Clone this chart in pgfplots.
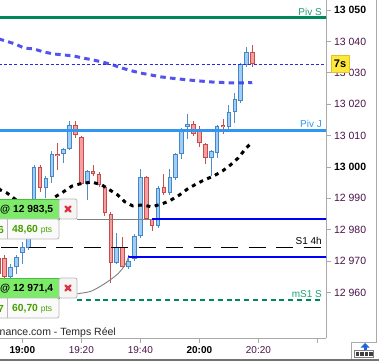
\documentclass[border=0pt]{standalone}
\usepackage{pgfplots}
\pgfplotsset{compat=1.18}
\usepackage{pgfplotstable}
\usepackage{fontspec}
\setmainfont{Liberation Sans}

\definecolor{upborder}{RGB}{70,135,200}
\definecolor{upfill}{RGB}{160,205,245}
\definecolor{upwick}{RGB}{80,140,200}
\definecolor{dnborder}{RGB}{200,75,75}
\definecolor{dnfill}{RGB}{245,160,160}
\definecolor{dnwick}{RGB}{200,80,80}
\definecolor{pivs}{RGB}{0,135,90}
\definecolor{pivstext}{RGB}{30,160,120}
\definecolor{pivj}{RGB}{50,150,240}
\definecolor{lastblue}{RGB}{40,40,230}
\definecolor{mablue}{RGB}{55,55,235}
\definecolor{levelblue}{RGB}{0,0,250}
\definecolor{axisgray}{RGB}{170,170,170}
\definecolor{tickpurple}{RGB}{75,20,75}
\definecolor{boxgreen}{RGB}{125,235,105}
\definecolor{boxgreenborder}{RGB}{70,190,60}
\definecolor{cellgray}{RGB}{185,185,185}
\definecolor{ptsgreen}{RGB}{70,160,0}
\definecolor{xred}{RGB}{220,50,60}
\definecolor{badge}{RGB}{255,232,60}
\definecolor{badgeborder}{RGB}{225,195,40}
\definecolor{iconblue}{RGB}{30,100,220}

\newcommand\fs[1]{\fontsize{#1}{#1}\selectfont}

% up candles: time (min after 19:00), open, high, low, close
\pgfplotstableread{
t o h l c
-4 12965.0 12969.0 12964.0 12968.2
-2 12968.0 12972.0 12966.0 12971.3
0 12972.6 12976.0 12969.0 12974.5
2 12974.2 12980.0 12973.5 12979.0
4 12979.0 13000.5 12978.0 13000.0
8 12993.3 12997.0 12990.0 12996.5
10 12996.8 13005.0 12995.0 13004.1
14 13004.1 13006.0 13001.3 13005.7
16 13005.7 13014.6 13005.5 13013.4
22 12994.6 12999.0 12989.5 12998.7
32 12969.4 12979.0 12969.0 12974.5
36 12968.2 12972.0 12967.5 12970.1
38 12970.7 12978.5 12970.0 12978.0
40 12978.0 12999.4 12977.5 12996.8
46 12981.2 12994.0 12980.5 12993.3
50 12991.7 12999.4 12991.0 12996.8
52 12996.5 13004.5 12995.9 13004.1
54 13004.1 13012.5 13002.5 13012.1
56 13012.7 13016.9 13008.9 13013.7
64 13002.9 13005.5 12997.1 13005.1
66 13004.5 13013.5 13002.9 13013.1
70 13012.7 13019.7 13012.1 13017.5
72 13017.5 13023.6 13014.0 13021.7
74 13021.0 13033.0 13020.4 13032.8
76 13032.5 13038.2 13031.8 13036.6
}\upcandles

% down candles
\pgfplotstableread{
t o h l c
-8 12971.0 12972.0 12964.0 12966.0
-6 12971.0 12972.0 12963.0 12965.0
6 13000.0 13000.5 12992.0 12993.3
12 13004.2 13007.6 12999.0 13003.4
18 13013.4 13014.6 13009.2 13010.2
20 13009.6 13010.0 12994.3 12994.6
24 12998.7 13000.6 12997.0 12997.8
26 12997.8 12998.5 12993.5 12994.3
28 12993.6 12994.0 12984.5 12985.4
30 12985.0 12985.5 12963.1 12969.4
34 12974.5 12977.7 12968.0 12968.2
42 12996.8 12997.0 12983.0 12983.4
44 12983.4 12983.5 12979.6 12981.2
48 12993.6 12997.8 12991.0 12991.7
58 13013.7 13014.6 13010.0 13010.5
60 13011.5 13013.1 13006.4 13007.6
62 13007.3 13007.5 13001.0 13002.9
68 13013.5 13015.3 13010.5 13012.6
78 13036.6 13038.9 13031.8 13032.8
}\dncandles

\begin{document}
\begin{tikzpicture}
\path[use as bounding box, fill=white] (0pt,0pt) rectangle (379pt,361pt);
\begin{axis}[
  at={(0pt,23pt)}, anchor=south west,
  scale only axis, width=326pt, height=338pt,
  xmin=-7.56, xmax=102.9, ymin=12945.5, ymax=13053.2,
  axis x line*=bottom, axis y line*=right,
  axis line style={draw=axisgray, line width=0.8pt},
  tick align=outside, major tick length=4.5pt,
  tick style={draw=axisgray, line width=0.8pt},
  xtick={0,20,40,60,80,100},
  xticklabels={{\textbf{\color{black}19:00}},19:20,19:40,{\textbf{\color{black}20:00}},20:20,{}},
  ytick={12960,12970,12980,12990,13000,13010,13020,13030,13040,13050},
  yticklabels={12 960,12 970,12 980,12 990,{\textbf{\color{black}13 000}},13 010,13 020,13 030,13 040,{\textbf{\color{black}13 050}}},
  xticklabel style={font=\fs{10}, text=tickpurple},
  yticklabel style={font=\fs{10.5}, text=tickpurple},
  minor tick num=0,
]
% wicks
\addplot[upwick, line width=1pt, quiver={u=0, v=\thisrow{h}-\thisrow{l}}] table[x=t, y=l] {\upcandles};
\addplot[dnwick, line width=1pt, quiver={u=0, v=\thisrow{h}-\thisrow{l}}] table[x=t, y=l] {\dncandles};
% bodies
\addplot[upborder, line width=4.6pt, quiver={u=0, v=\thisrow{c}-\thisrow{o}}] table[x=t, y=o] {\upcandles};
\addplot[upfill, line width=2.6pt, quiver={u=0, v=\thisrow{c}-\thisrow{o}-0.64}] table[x=t, y expr=\thisrow{o}+0.32] {\upcandles};
\addplot[dnborder, line width=4.6pt, quiver={u=0, v=\thisrow{o}-\thisrow{c}}] table[x=t, y=c] {\dncandles};
\addplot[dnfill, line width=2.6pt, quiver={u=0, v=\thisrow{o}-\thisrow{c}-0.64}] table[x=t, y expr=\thisrow{c}+0.32] {\dncandles};

% levels
\addplot[pivs, line width=2.2pt] coordinates {(-8,13047.6) (105,13047.6)};
\addplot[pivj, line width=2.2pt] coordinates {(-8,13011.6) (105,13011.6)};
\addplot[lastblue, line width=0.9pt, dash pattern=on 3pt off 2.2pt] coordinates {(-8,13032.7) (105,13032.7)};
\addplot[black, line width=0.9pt, dash pattern=on 17pt off 10.5pt] coordinates {(-7.2,12974.4) (105,12974.4)};
\addplot[pivs, line width=2pt, dash pattern=on 5pt off 3.8pt] coordinates {(18.5,12957.6) (101.6,12957.6)};
\addplot[gray, line width=0.9pt] coordinates {(18.5,12983.4) (44.0,12983.4)};
\addplot[levelblue, line width=2pt] coordinates {(44.0,12983.4) (105,12983.4)};
\addplot[levelblue, line width=2pt] coordinates {(35.8,12971.3) (105,12971.3)};
\addplot[gray, line width=0.9pt, smooth] coordinates {(18.64,12959.6) (22.95,12960.3) (26.34,12961.9) (29.73,12964.0) (32.54,12966.1) (34.81,12968.8) (35.93,12971.2)};

% moving averages
\addplot[mablue, opacity=0.85, line width=3pt, dash pattern=on 5.5pt off 4.3pt] coordinates {
(-8,13040.8) (-6.54,13040.4) (-2.47,13039.2) (0.58,13037.9) (3.97,13037.6) (7.36,13036.6) (10.75,13036.0) (13.8,13035.7) (17.2,13035.4) (20.6,13034.7) (23.9,13034.1) (27.3,13033.4) (30.7,13032.5) (33.8,13031.5) (37.2,13030.6) (40.2,13029.9) (43.6,13029.3) (47.0,13028.7) (50.4,13028.3) (53.5,13028.0) (56.5,13027.7) (63.6,13027.1) (70.4,13026.8) (75.5,13026.8) (77.9,13026.9)};
\addplot[black, line width=3pt, dash pattern=on 4pt off 4.5pt] coordinates {
(-8,12993.2) (-7.5,12992.7) (-5.2,12991.7) (0,12988.0) (2,12986.5) (6,12986.5) (9,12988.5) (11.0,12990.4) (13.8,12992.0) (16.8,12993.9) (19.5,12994.6) (23.5,12995.2) (26.9,12994.3) (29.6,12992.7) (32.3,12991.1) (34.7,12988.9) (37.4,12987.6) (40.8,12987.9) (43.8,12987.3) (47.2,12988.2) (49.9,12989.2) (53.3,12991.1) (56.0,12993.0) (59.0,12994.6) (61.7,12995.9) (64.8,12997.1) (67.8,12998.7) (70.5,13000.6) (73.2,13002.9) (75.9,13006.1) (77.6,13007.6)};
\end{axis}

\begin{scope}[x=1pt, y=-1pt, yshift=361pt]
% level labels
\node[anchor=east, inner sep=0pt, text=pivstext, font=\fs{10}] at (322,12) {Piv S};
\node[anchor=east, inner sep=0pt, text=pivj, font=\fs{10}] at (322,124) {Piv J};
\node[anchor=east, inner sep=0pt, text=black, font=\fs{10}] at (322,240.5) {S1 4h};
\node[anchor=east, inner sep=0pt, text=pivstext, font=\fs{10}] at (322,294) {mS1 S};
% source text
\node[anchor=west, inner sep=0pt, text=black!85, font=\fs{10.5}] at (-0.5,333) {nance.com - Temps Réel};
% last price badge
\draw[fill=badge, draw=badgeborder, line width=0.8pt] (331,55) rectangle (349,72);
\node[inner sep=0pt, font=\fs{11}\bfseries] at (340,63.5) {7s};

% upper order box
\draw[fill=boxgreen, draw=boxgreenborder, line width=0.8pt] (-3,199) rectangle (59,219);
\draw[fill=black!4, draw=cellgray, line width=0.8pt, rounded corners=2pt] (59,199) -- (77,199) -- (77,219) -- (59,219) -- cycle;
\draw[fill=black!2, draw=cellgray, line width=0.8pt, rounded corners=2pt] (-3,219) -- (59,219) -- (59,239) -- (-3,239) -- cycle;
\draw[cellgray, line width=0.8pt] (7,219) -- (7,239);
\node[anchor=west, inner sep=0pt, font=\fs{10.3}\bfseries] at (0,209.5) {@ 12 983,5};
\draw[xred, line width=2.2pt, line cap=round] (65.3,206.3) -- (70.7,211.7) (65.3,211.7) -- (70.7,206.3);
\node[anchor=east, inner sep=0pt, text=ptsgreen, font=\fs{10.3}\bfseries] at (4,229.5) {6};
\node[anchor=west, inner sep=0pt, text=ptsgreen, font=\fs{10.3}\bfseries] at (12,229.5) {48,60 {\fs{8.5}\mdseries pts}};

% lower order box
\draw[fill=boxgreen, draw=boxgreenborder, line width=0.8pt] (-3,278) rectangle (59,298);
\draw[fill=black!4, draw=cellgray, line width=0.8pt, rounded corners=2pt] (59,278) -- (77,278) -- (77,298) -- (59,298) -- cycle;
\draw[fill=black!2, draw=cellgray, line width=0.8pt, rounded corners=2pt] (-3,298) -- (59,298) -- (59,318) -- (-3,318) -- cycle;
\draw[cellgray, line width=0.8pt] (7,298) -- (7,318);
\node[anchor=west, inner sep=0pt, font=\fs{10.3}\bfseries] at (0,288.5) {@ 12 971,4};
\draw[xred, line width=2.2pt, line cap=round] (65.3,285.3) -- (70.7,290.7) (65.3,290.7) -- (70.7,285.3);
\node[anchor=east, inner sep=0pt, text=ptsgreen, font=\fs{10.3}\bfseries] at (4,308.5) {7};
\node[anchor=west, inner sep=0pt, text=ptsgreen, font=\fs{10.3}\bfseries] at (12,308.5) {60,70 {\fs{8.5}\mdseries pts}};

% right panel border and bottom bar
\draw[axisgray, line width=1pt] (376.5,0) -- (376.5,342);
\fill[black!55] (0,359) rectangle (379,361);
% icon
\draw[axisgray, line width=0.8pt] (351,342) -- (351,359) (351,342) -- (376.5,342);
\draw[black!50, line width=0.6pt] (354.5,350.5) rectangle (373.5,357);
\foreach \i in {0,1,2,3} {\fill[black!75] (356+4.4*\i,352) rectangle (359.3+4.4*\i,355.5);}
\fill[iconblue] (360.5,347.5) -- (369.5,347.5) -- (365,343) -- cycle;
\fill[iconblue] (363.5,347) rectangle (366.5,350);
\end{scope}
\end{tikzpicture}
\end{document}
